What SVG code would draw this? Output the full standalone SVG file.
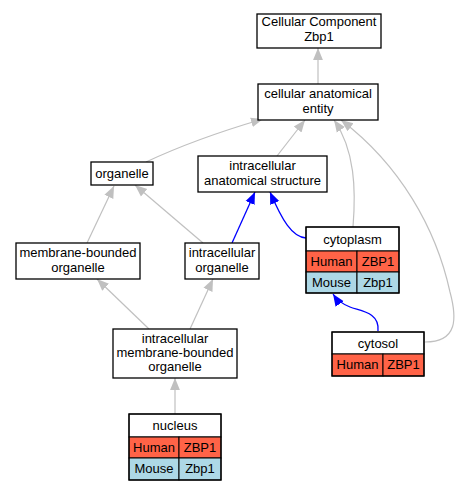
<svg xmlns="http://www.w3.org/2000/svg" width="457" height="491" viewBox="0 0 457 491">
<defs>
<style>
text{font-family:"Liberation Sans",Arial,sans-serif;font-size:13px;fill:#000;text-anchor:middle}
.box{fill:#fff;stroke:#000;stroke-width:1.3}
.hum{fill:#ff6347;stroke:#000;stroke-width:1}
.mou{fill:#add8e6;stroke:#000;stroke-width:1}
.frame{fill:none;stroke:#000;stroke-width:1.3}
.g{fill:none;stroke:#c0c0c0;stroke-width:1.2}
.b{fill:none;stroke:#0000ff;stroke-width:1.3}
</style>
<marker id="ag" markerUnits="userSpaceOnUse" markerWidth="12" markerHeight="12" viewBox="0 -5 11 10" refX="11" refY="0" orient="auto"><path d="M0,-4.5 L11,0 L0,4.5 z" fill="#c0c0c0"/></marker>
<marker id="ab" markerUnits="userSpaceOnUse" markerWidth="12" markerHeight="12" viewBox="0 -5 11 10" refX="11" refY="0" orient="auto"><path d="M0,-4.5 L11,0 L0,4.5 z" fill="#0000ff"/></marker>
</defs>
<g id="edges">
<path class="g" d="M318,84 L318,48" marker-end="url(#ag)"/>
<path class="g" d="M146,162 C180,146 222,131 263,119" marker-end="url(#ag)"/>
<path class="g" d="M277,156 L305,120" marker-end="url(#ag)"/>
<path class="g" d="M353,227 C356,190 355,150 334,120" marker-end="url(#ag)"/>
<path class="g" d="M425,342 C458,342 457,318 450,292 C436,228 400,165 341,120" marker-end="url(#ag)"/>
<path class="g" d="M87,243 L114,186" marker-end="url(#ag)"/>
<path class="g" d="M203,243 L135,185" marker-end="url(#ag)"/>
<path class="g" d="M149,329 L97,279" marker-end="url(#ag)"/>
<path class="g" d="M190,329 L213,279" marker-end="url(#ag)"/>
<path class="g" d="M175,414 L175,378" marker-end="url(#ag)"/>
<path class="b" d="M232,243 L255,192" marker-end="url(#ab)"/>
<path class="b" d="M306,238 C292,237 282,220 270,192" marker-end="url(#ab)"/>
<path class="b" d="M378,331 C380,312 360,311 350,307 C342,304 337,300 333,294" marker-end="url(#ab)"/>
</g>
<g id="n_cc">
<rect class="box" x="257" y="14" width="124" height="34"/>
<text x="319" y="26">Cellular Component</text>
<text x="319" y="41">Zbp1</text>
</g>
<g id="n_cae">
<rect class="box" x="258" y="84" width="120" height="36"/>
<text x="318" y="98">cellular anatomical</text>
<text x="318" y="113">entity</text>
</g>
<g id="n_organelle">
<rect class="box" x="91" y="162" width="62" height="23"/>
<text x="122" y="178">organelle</text>
</g>
<g id="n_ias">
<rect class="box" x="198" y="156" width="129" height="36"/>
<text x="262.5" y="170">intracellular</text>
<text x="262.5" y="185">anatomical structure</text>
</g>
<g id="n_mbo">
<rect class="box" x="16" y="243" width="124" height="36"/>
<text x="78" y="257">membrane-bounded</text>
<text x="78" y="272">organelle</text>
</g>
<g id="n_io">
<rect class="box" x="185" y="243" width="74" height="36"/>
<text x="222" y="257">intracellular</text>
<text x="222" y="272">organelle</text>
</g>
<g id="n_imbo">
<rect class="box" x="113" y="329" width="124" height="49"/>
<text x="175" y="343">intracellular</text>
<text x="175" y="357">membrane-bounded</text>
<text x="175" y="371">organelle</text>
</g>
<g id="n_cytoplasm">
<rect x="306" y="227" width="93" height="24" fill="#fff" stroke="#000"/>
<rect class="hum" x="306" y="251" width="51" height="21"/>
<rect class="hum" x="357" y="251" width="42" height="21"/>
<rect class="mou" x="306" y="272" width="51" height="21"/>
<rect class="mou" x="357" y="272" width="42" height="21"/>
<rect class="frame" x="306" y="227" width="93" height="66"/>
<text x="352.5" y="244">cytoplasm</text>
<text x="331.5" y="266">Human</text>
<text x="378" y="266">ZBP1</text>
<text x="331.5" y="287">Mouse</text>
<text x="378" y="287">Zbp1</text>
</g>
<g id="n_cytosol">
<rect x="332" y="332" width="92" height="22" fill="#fff" stroke="#000"/>
<rect class="hum" x="332" y="354" width="51" height="22"/>
<rect class="hum" x="383" y="354" width="41" height="22"/>
<rect class="frame" x="332" y="332" width="92" height="44"/>
<text x="378" y="348">cytosol</text>
<text x="357.5" y="369">Human</text>
<text x="403.5" y="369">ZBP1</text>
</g>
<g id="n_nucleus">
<rect x="129" y="414" width="92" height="23" fill="#fff" stroke="#000"/>
<rect class="hum" x="129" y="437" width="50" height="21"/>
<rect class="hum" x="179" y="437" width="42" height="21"/>
<rect class="mou" x="129" y="458" width="50" height="22"/>
<rect class="mou" x="179" y="458" width="42" height="22"/>
<rect class="frame" x="129" y="414" width="92" height="66"/>
<text x="175" y="430">nucleus</text>
<text x="154" y="452">Human</text>
<text x="200" y="452">ZBP1</text>
<text x="154" y="473">Mouse</text>
<text x="200" y="473">Zbp1</text>
</g>
</svg>
